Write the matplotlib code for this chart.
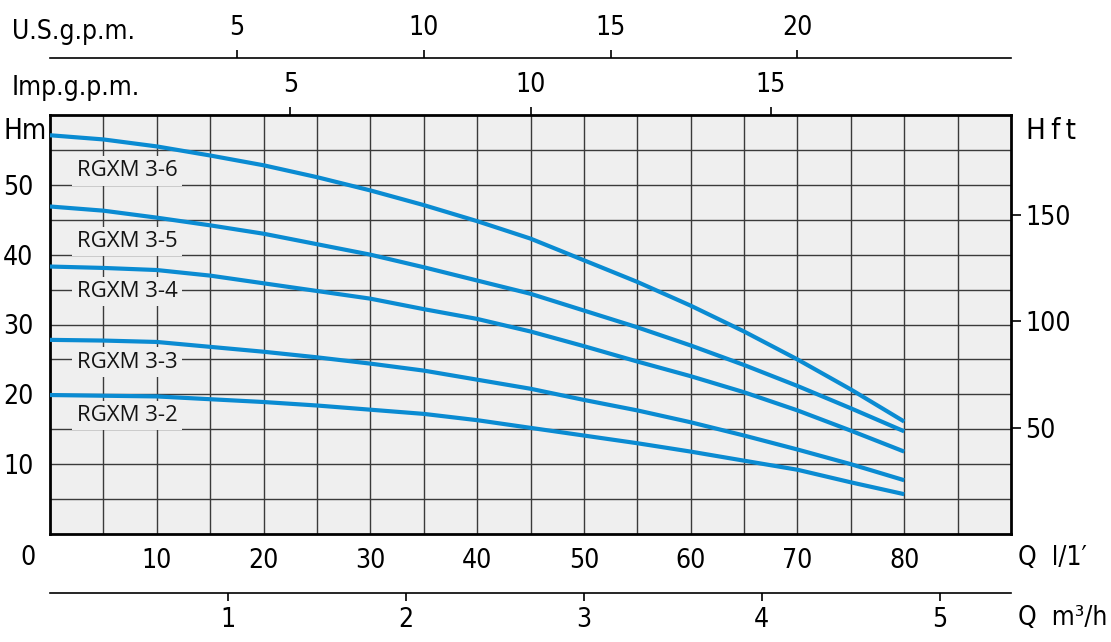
import numpy as np
import matplotlib.pyplot as plt
from matplotlib.font_manager import FontProperties

# flow in l/min, head in m
q = [0, 5, 10, 15, 20, 25, 30, 35, 40, 45, 50, 55, 60, 65, 70, 75, 80]
h_36 = [57.1, 56.5, 55.5, 54.2, 52.8, 51.1, 49.2, 47.1, 44.8, 42.3, 39.2, 36.1, 32.7, 29.0, 25.0, 20.7, 16.1]
h_35 = [46.9, 46.3, 45.3, 44.2, 43.0, 41.5, 40.0, 38.2, 36.3, 34.4, 32.0, 29.6, 27.0, 24.2, 21.2, 18.0, 14.7]
h_34 = [38.3, 38.1, 37.8, 37.0, 35.9, 34.8, 33.7, 32.2, 30.8, 29.0, 26.9, 24.7, 22.6, 20.3, 17.7, 14.8, 11.8]
h_33 = [27.8, 27.7, 27.5, 26.8, 26.1, 25.3, 24.4, 23.4, 22.1, 20.8, 19.2, 17.7, 16.0, 14.1, 12.1, 10.0, 7.7]
h_32 = [19.9, 19.8, 19.7, 19.3, 18.9, 18.4, 17.8, 17.2, 16.3, 15.2, 14.1, 13.0, 11.8, 10.5, 9.2, 7.4, 5.7]

models = ["RGXM 3-6", "RGXM 3-5", "RGXM 3-4", "RGXM 3-3", "RGXM 3-2"]
label_y = [52.0, 41.9, 34.7, 24.6, 17.0]

q_ticks = [10, 20, 30, 40, 50, 60, 70, 80]
h_ticks = [10, 20, 30, 40, 50]
ft_ticks = [50, 100, 150]
us_ticks = [5, 10, 15, 20]
imp_ticks = [5, 10, 15]
m3h_ticks = [1, 2, 3, 4, 5]

M_TO_FT = 3.2808
US_F = 3.5      # l/min per US gpm (as drawn)
IMP_F = 4.5     # l/min per Imp gpm (as drawn)
M3H_F = 1000 / 60.0

blue = '#0a8bd2'
bg = '#efefef'
fs = 19
num_fp = FontProperties(family='DejaVu Sans', stretch='condensed', size=fs)

W, H = 1111, 642
x0, x1, y0, y1 = 50, 1011, 534, 115   # plot box in pixels
fig = plt.figure(figsize=(W / 100, H / 100), dpi=100)
ax = fig.add_axes([x0 / W, 1 - y0 / H, (x1 - x0) / W, (y0 - y1) / H])
ax.set_facecolor(bg)
ax.set_xlim(0, 90)
ax.set_ylim(0, 60)

ax.set_xticks(q_ticks)
ax.set_xticks(np.arange(5, 90, 5), minor=True)
ax.set_yticks(h_ticks)
ax.set_yticks(np.arange(5, 60, 5), minor=True)
ax.grid(True, which='both', color='#3a3a3a', lw=1.0)
ax.set_axisbelow(True)
ax.tick_params(which='both', length=0)
ax.tick_params(axis='x', pad=10)
ax.tick_params(axis='y', pad=12)
for lab in ax.get_xticklabels() + ax.get_yticklabels():
    lab.set_fontproperties(num_fp)
for s in ax.spines.values():
    s.set_linewidth(2.0)
    s.set_color('black')

for hs in [h_36, h_35, h_34, h_33, h_32]:
    ax.plot(q, hs, color=blue, lw=3, solid_capstyle='butt', zorder=3)

for name, yy in zip(models, label_y):
    ax.text(2.5, yy, name, family='Open Sans', fontsize=16, va='center', ha='left',
            color='#141414', zorder=4,
            bbox=dict(facecolor=bg, edgecolor='none', pad=3))

# right axis in feet
axr = ax.secondary_yaxis('right', functions=(lambda m: m * M_TO_FT, lambda f: f / M_TO_FT))
axr.set_yticks(ft_ticks)
axr.tick_params(length=7, width=1.2, pad=3)
axr.spines['right'].set_visible(False)
for lab in axr.get_yticklabels():
    lab.set_fontproperties(num_fp)

# Imp gpm on top of the box
axi = ax.secondary_xaxis('top', functions=(lambda x: x / IMP_F, lambda g: g * IMP_F))
axi.set_xticks(imp_ticks)
axi.tick_params(length=6, width=1.2, pad=6)
axi.spines['top'].set_visible(False)
for lab in axi.get_xticklabels():
    lab.set_fontproperties(num_fp)

# US gpm line above
axu = ax.secondary_xaxis((y0 - 58) / (y0 - y1), functions=(lambda x: x / US_F, lambda g: g * US_F))
axu.set_xticks(us_ticks)
axu.tick_params(length=6, width=1.2, pad=6)
axu.spines['top'].set_linewidth(1.2)
for lab in axu.get_xticklabels():
    lab.set_fontproperties(num_fp)

# m3/h line below
axm = ax.secondary_xaxis((y0 - 593) / (y0 - y1), functions=(lambda x: x / M3H_F, lambda m: m * M3H_F))
axm.set_xticks(m3h_ticks)
axm.tick_params(length=6, width=1.2, pad=4)
axm.spines['bottom'].set_linewidth(1.2)
for lab in axm.get_xticklabels():
    lab.set_fontproperties(num_fp)

def ftext(px, py, s, size=fs, ha='left'):
    fp = num_fp.copy()
    fp.set_size(size)
    fig.text(px / W, 1 - py / H, s, fontproperties=fp, ha=ha, va='center')

ftext(12, 32, 'U.S.g.p.m.')
ftext(12, 88, 'Imp.g.p.m.')
ftext(4, 131, 'Hm', size=20)
ftext(1026, 131, 'H\u2009f\u2009t', size=21)
ftext(28, 558, '0', ha='center')
ftext(1018, 558, 'Q  l/1\u2032')
ftext(1018, 618, 'Q  m\u00b3/h')

fig.savefig('out.png', dpi=100)
